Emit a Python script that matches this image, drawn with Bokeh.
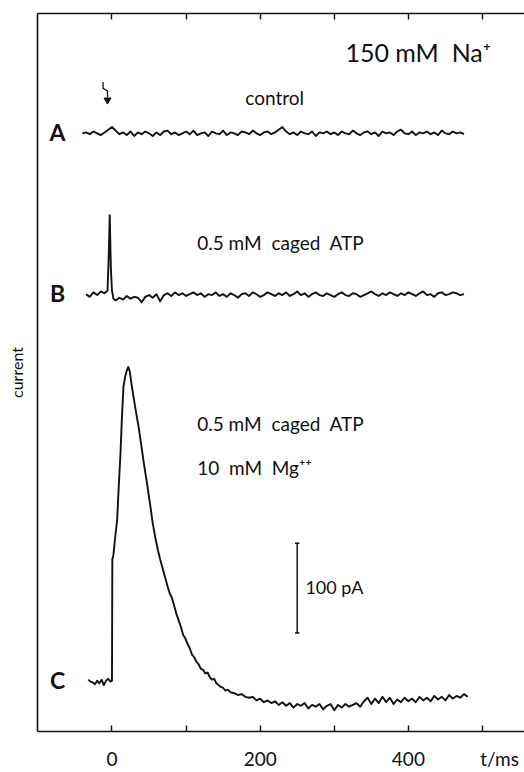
import numpy as np
from bokeh.plotting import figure
from bokeh.models import Range1d, LinearAxis, Label, FixedTicker
from bokeh.embed import file_html
from bokeh.resources import INLINE

# ---------------- data (pA relative to each trace's own baseline) ----------------
A_t = list(range(-40, 480, 5))
A_v = [0, 1, -1, 2, 0, -2, 1, 4, 7, 3, -1, 1, -2, 2, -3, 1, -1, 2, 0, -3,
       1, -2, 2, 3, -1, 1, -2, 0, 2, -1, 3, -2, 0, 1, -3, 2, 0, -1, 3, -2,
       1, 0, -2, 2, 1, -1, 3, 0, -2, 1, 2, -1, 1, 4, 7, 2, -1, 1, -2, 2,
       0, -1, 2, -3, 1, 0, 2, -1, 1, -2, 2, 0, -1, 3, 0, -2, 1, 2, -1, 1,
       -3, 2, 0, 1, -2, 2, 4, 0, -1, 2, -2, 1, 0, 2, -1, 1, -2, 3, 0, -1,
       2, 0, 1, -1]

B_t = [-35, -30, -25, -20, -15, -10, -6, -4.5, -3, -1.5, 0, 2] + list(range(5, 480, 5))
B_v = [1, -2, 3, 0, 4, 2, 5, 40, 89, 30, 5, -4,
       -6, -3, -5, -1, -4, -2, -3, -8, -2, 0, -3, 1, -7, 0, 2, -1, 3, 0, 2, -1,
       1, 3, 0, 2, -2, 1, 0, 3, -1, 1, -2, 2, 0, -3, 1, 2, -1, 3, 1, -2,
       0, 3, 1, -1, 2, 0, 3, -1, 1, 4, 0, 2, -2, 1, 3, 0, -1, 2, 0, -2,
       1, 3, 0, -1, 2, 1, -2, 0, 2, 4, 1, -1, 2, 0, 3, 1, -1, 2, 0, 3,
       1, -1, 2, 4, 0, 1, -2, 2, 3, 0, 1, 3, 2, 0, 1]

C_t = [-32, -29, -26, -23, -20, -17, -14, -11, -8, -5, -2, 0,
       0.5, 2, 4, 7, 9, 11.5, 13.5, 15.5, 18, 20, 22, 24, 26, 29, 32, 36, 39, 43,
       47, 52, 55, 59, 62, 65, 70, 75, 78, 81, 84, 87, 90, 93, 96, 99, 102, 105,
       108, 111, 114, 117, 120, 123, 126, 129, 132, 135, 138, 141, 144, 147, 150,
       153, 156, 160, 165, 170, 175, 180, 185, 190, 195] + list(range(200, 485, 5))
C_v = [2, 0, -1, -3, 1, -2, 2, -4, 1, 3, 0, 1,
       136, 141, 158, 180, 215, 254, 295, 328, 340, 346, 350, 345, 333, 317, 302, 283, 266, 243,
       222, 194, 176, 158, 146, 136, 121, 106, 98, 93, 84, 75, 68, 61, 52, 48, 42, 37,
       30, 27, 22, 19, 14, 13, 9, 10, 5, 2, 3, -2, -4, -6, -7,
       -10, -9, -12, -13, -15, -14, -17, -18, -17, -21,
       -19, -23, -21, -24, -22, -26, -23, -27, -24, -29, -25, -27, -24, -30, -26, -28,
       -25, -31, -27, -25, -32, -26, -29, -25, -28, -26, -24, -28, -22, -18, -25, -19,
       -24, -17, -23, -18, -25, -20, -23, -18, -22, -19, -23, -17, -21, -18, -22, -16,
       -20, -17, -21, -15, -19, -16, -18, -14, -17]

assert len(A_t) == len(A_v) and len(B_t) == len(B_v) and len(C_t) == len(C_v)

trace_labels = ["A", "B", "C"]
trace_offsets = [610, 430, 0]          # vertical stacking of the three records (pA)
x_label_ticks = [0, 200, 400]
x_unlabeled_ticks = [100, 300, 500]
x_all_ticks = [0, 100, 200, 300, 400, 500]
x_unit_label = "t/ms"
scale_bar_pA = 100

FONT = "Lato"
INK = "#111111"

p = figure(width=524, height=772, output_backend="svg", toolbar_location=None,
           x_range=Range1d(-100.5, 556.7), y_range=Range1d(-55.6, 743.3),
           min_border_left=37, min_border_right=0, min_border_top=13, min_border_bottom=40,
           x_axis_location=None, y_axis_location=None)
p.outline_line_color = None
p.grid.visible = False
p.xgrid.visible = False
p.ygrid.visible = False
p.background_fill_color = "white"
p.border_fill_color = "white"

# bottom axis: labelled ticks 0/200/400, unlabelled 100/300, unit label near 500
bx = LinearAxis(ticker=FixedTicker(ticks=x_label_ticks + [500],
                                   minor_ticks=[100, 300]),
                major_label_overrides={500: "\u00a0" * 7 + x_unit_label})
bx.major_tick_in = 6
bx.major_tick_out = 0
bx.minor_tick_in = 6
bx.minor_tick_out = 0
bx.minor_tick_line_width = 1.4
bx.minor_tick_line_color = INK
bx.axis_line_width = 1.6
bx.axis_line_color = INK
bx.major_tick_line_width = 1.4
bx.major_tick_line_color = INK
bx.major_label_text_font = FONT
bx.major_label_text_font_size = "19px"
bx.major_label_text_color = INK
bx.major_label_standoff = 15
p.add_layout(bx, "below")

# top axis (frame line with inward ticks, no labels)
tx = LinearAxis(ticker=FixedTicker(ticks=[], minor_ticks=x_all_ticks))
tx.major_tick_line_color = None
tx.minor_tick_in = 6
tx.minor_tick_out = 0
tx.minor_tick_line_width = 1.4
tx.minor_tick_line_color = INK
tx.axis_line_width = 1.6
tx.axis_line_color = INK
tx.major_label_standoff = 0
p.add_layout(tx, "above")

# left axis (line + label only)
ly = LinearAxis(ticker=FixedTicker(ticks=[]), axis_label="current")
ly.axis_line_width = 1.6
ly.axis_line_color = INK
ly.major_tick_line_color = None
ly.minor_tick_line_color = None
ly.major_label_standoff = 0
ly.axis_label_standoff = 12
ly.axis_label_text_font = FONT
ly.axis_label_text_font_style = "normal"
ly.axis_label_text_font_size = "16px"
ly.axis_label_text_color = INK
p.add_layout(ly, "left")

# traces
for t, v, off in zip([A_t, B_t, C_t], [A_v, B_v, C_v], trace_offsets):
    p.line(t, np.array(v, dtype=float) + off, line_color=INK, line_width=1.9,
           line_join="round")

# trace letters
for lab_txt, off in zip(trace_labels, trace_offsets):
    p.add_layout(Label(x=-73.5, y=off + 2, text=lab_txt, text_font=FONT, text_font_style="bold",
                       text_font_size="23px", text_align="center", text_baseline="middle",
                       text_color=INK))

# flash symbol (lightning arrow)
p.line([-12, -12, -6, -6], [667, 660, 657, 650], line_color=INK, line_width=1.3)
p.scatter([-6], [647], marker="inverted_triangle", size=7, color=INK)

# scale bar
sb_t, sb_y0 = 250, 54
p.segment([sb_t], [sb_y0], [sb_t], [sb_y0 + scale_bar_pA], line_color=INK, line_width=1.5)
p.segment([sb_t - 3, sb_t - 3], [sb_y0, sb_y0 + scale_bar_pA],
          [sb_t + 3, sb_t + 3], [sb_y0, sb_y0 + scale_bar_pA], line_color=INK, line_width=1.5)

def lab(x, y, text, size, align="left"):
    p.add_layout(Label(x=x, y=y, text=text, text_font=FONT, text_font_size=size,
                       text_align=align, text_baseline="middle", text_color=INK))

lab(315, 700, "150 mM\u00a0\u00a0Na\u207a", "25px")
lab(180, 650, "control", "19px")
lab(115, 488, "0.5 mM\u00a0\u00a0caged\u00a0\u00a0ATP", "19px")
lab(115, 287, "0.5 mM\u00a0\u00a0caged\u00a0\u00a0ATP", "19px")
lab(115, 238, "10\u00a0\u00a0mM\u00a0\u00a0Mg\u207a\u207a", "19px")
lab(261, 105.5, "100 pA", "18px")

open("out.html", "w").write(file_html(p, INLINE))
